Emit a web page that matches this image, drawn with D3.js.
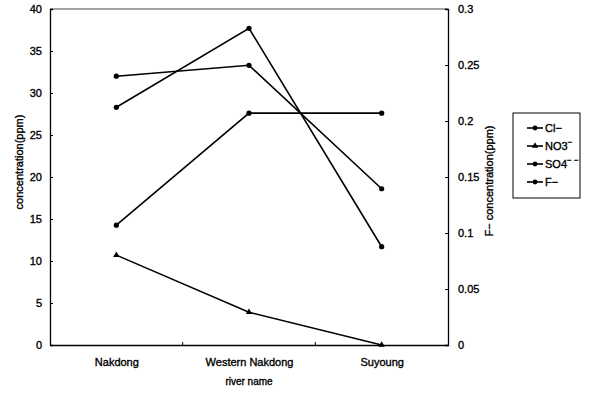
<!DOCTYPE html>
<html>
<head>
<meta charset="utf-8">
<script src="https://cdn.jsdelivr.net/npm/d3@7"></script>
<style>
  body { margin: 0; background: #fff; }
  text { font-family: "Liberation Sans", Arial, sans-serif; fill: #000; stroke: #000; stroke-width: 0.35px; }
</style>
</head>
<body>
<div id="chart"></div>
<script>
var rivers = ["Nakdong", "Western Nakdong", "Suyoung"];
var leftTicks = [0, 5, 10, 15, 20, 25, 30, 35, 40];
var rightTicks = [0, 0.05, 0.1, 0.15, 0.2, 0.25, 0.3];

// Values (ppm)
var clValues = [28.3, 37.7, 11.7];
var no3Values = [10.7, 3.9, 0];
var so4Values = [32.0, 33.3, 18.6];
var fValues = [0.107, 0.207, 0.207];

var width = 589, height = 393;
var margin = { top: 9, right: 141, bottom: 48, left: 50 };
var w = width - margin.left - margin.right,
    h = height - margin.top - margin.bottom;

var xScale = d3.scalePoint().domain(rivers).range([0, w]).padding(0.5);
var yScale = d3.scaleLinear().domain([0, 40]).range([h, 0]);
var y2Scale = d3.scaleLinear().domain([0, 0.3]).range([h, 0]);

var series = [
  { name: "Cl", values: clValues, scale: yScale, marker: "circle" },
  { name: "NO3", values: no3Values, scale: yScale, marker: "triangle" },
  { name: "SO4", values: so4Values, scale: yScale, marker: "circle" },
  { name: "F", values: fValues, scale: y2Scale, marker: "circle" }
];

var svg = d3.select("#chart").append("svg")
  .attr("width", width)
  .attr("height", height);

var g = svg.append("g")
  .attr("transform", "translate(" + margin.left + "," + margin.top + ")");

// frame (top line)
g.append("line")
  .attr("x1", 0).attr("x2", w).attr("y1", 0).attr("y2", 0)
  .attr("stroke", "#444").attr("stroke-width", 1);

// axes
var yAxis = d3.axisLeft(yScale).tickValues(leftTicks).tickSize(-3).tickPadding(8);
var y2Axis = d3.axisRight(y2Scale).tickValues(rightTicks).tickSize(-3).tickPadding(10)
  .tickFormat(function(d) { return d === 0 ? "0" : d3.format("")(+d.toFixed(2)); });
var xAxis = d3.axisBottom(xScale).tickSize(0).tickPadding(13);

function styleAxis(sel) {
  sel.select(".domain").attr("stroke", "#000").attr("stroke-width", 1.3);
  sel.selectAll(".tick line").attr("stroke", "#000");
  sel.selectAll("text").attr("font-size", 11).style("font-family", "Liberation Sans, Arial, sans-serif");
}

g.append("g").call(yAxis).call(styleAxis);
g.append("g").attr("transform", "translate(" + w + ",0)").call(y2Axis).call(styleAxis);
g.append("g").attr("transform", "translate(0," + h + ")").call(xAxis).call(styleAxis);

// small category boundary ticks on the bottom axis
var step = xScale.step();
g.selectAll(".bnd").data(rivers.slice(1)).enter().append("line")
  .attr("x1", function(d) { return xScale(d) - step / 2; })
  .attr("x2", function(d) { return xScale(d) - step / 2; })
  .attr("y1", h).attr("y2", h - 3)
  .attr("stroke", "#000");

// axis titles
g.append("text")
  .attr("x", w / 2).attr("y", h + 40)
  .attr("text-anchor", "middle").attr("font-size", 10)
  .text("river name");

g.append("text")
  .attr("transform", "translate(-27," + (h / 2 - 15) + ") rotate(-90)")
  .attr("text-anchor", "middle").attr("font-size", 11)
  .text("concentration(ppm)");

g.append("text")
  .attr("transform", "translate(" + (w + 45) + "," + (h / 2 + 4) + ") rotate(-90)")
  .attr("text-anchor", "middle").attr("font-size", 11)
  .text("F\u2212 concentration(ppm)");

// lines
var lineGen = function(s) {
  return d3.line()
    .x(function(d, i) { return xScale(rivers[i]); })
    .y(function(d) { return s.scale(d); })(s.values);
};

var groups = g.selectAll(".series").data(series).enter().append("g");

groups.append("path")
  .attr("d", lineGen)
  .attr("fill", "none")
  .attr("stroke", "#000")
  .attr("stroke-width", 1.6);

var tri = d3.symbol().type(d3.symbolTriangle).size(18);

groups.each(function(s) {
  var sel = d3.select(this);
  s.values.forEach(function(v, i) {
    var cx = xScale(rivers[i]), cy = s.scale(v);
    if (s.marker === "triangle") {
      sel.append("path").attr("d", tri()).attr("transform", "translate(" + cx + "," + cy + ")");
    } else {
      sel.append("circle").attr("cx", cx).attr("cy", cy).attr("r", 2.6);
    }
  });
});

// legend
var lg = svg.append("g").attr("transform", "translate(513,113)");
lg.append("rect")
  .attr("width", 67).attr("height", 85)
  .attr("fill", "none").attr("stroke", "#000").attr("stroke-width", 1);

var legendRows = [
  { base: "Cl\u2212", sup: "", marker: "circle" },
  { base: "NO3", sup: "\u2212", marker: "triangle" },
  { base: "SO4", sup: "\u2212 \u2212", marker: "circle" },
  { base: "F\u2212", sup: "", marker: "circle" }
];

legendRows.forEach(function(r, i) {
  var yy = 15 + i * 18;
  lg.append("line").attr("x1", 14).attr("x2", 30).attr("y1", yy).attr("y2", yy)
    .attr("stroke", "#000").attr("stroke-width", 1.6);
  if (r.marker === "triangle") {
    lg.append("path").attr("d", tri()).attr("transform", "translate(22," + yy + ")");
  } else {
    lg.append("circle").attr("cx", 22).attr("cy", yy).attr("r", 2.4);
  }
  var t = lg.append("text").attr("x", 32).attr("y", yy + 4).attr("font-size", 11);
  t.append("tspan").text(r.base);
  if (r.sup) {
    t.append("tspan").attr("dy", -5).attr("font-size", 8).text(r.sup);
  }
});
</script>
</body>
</html>
